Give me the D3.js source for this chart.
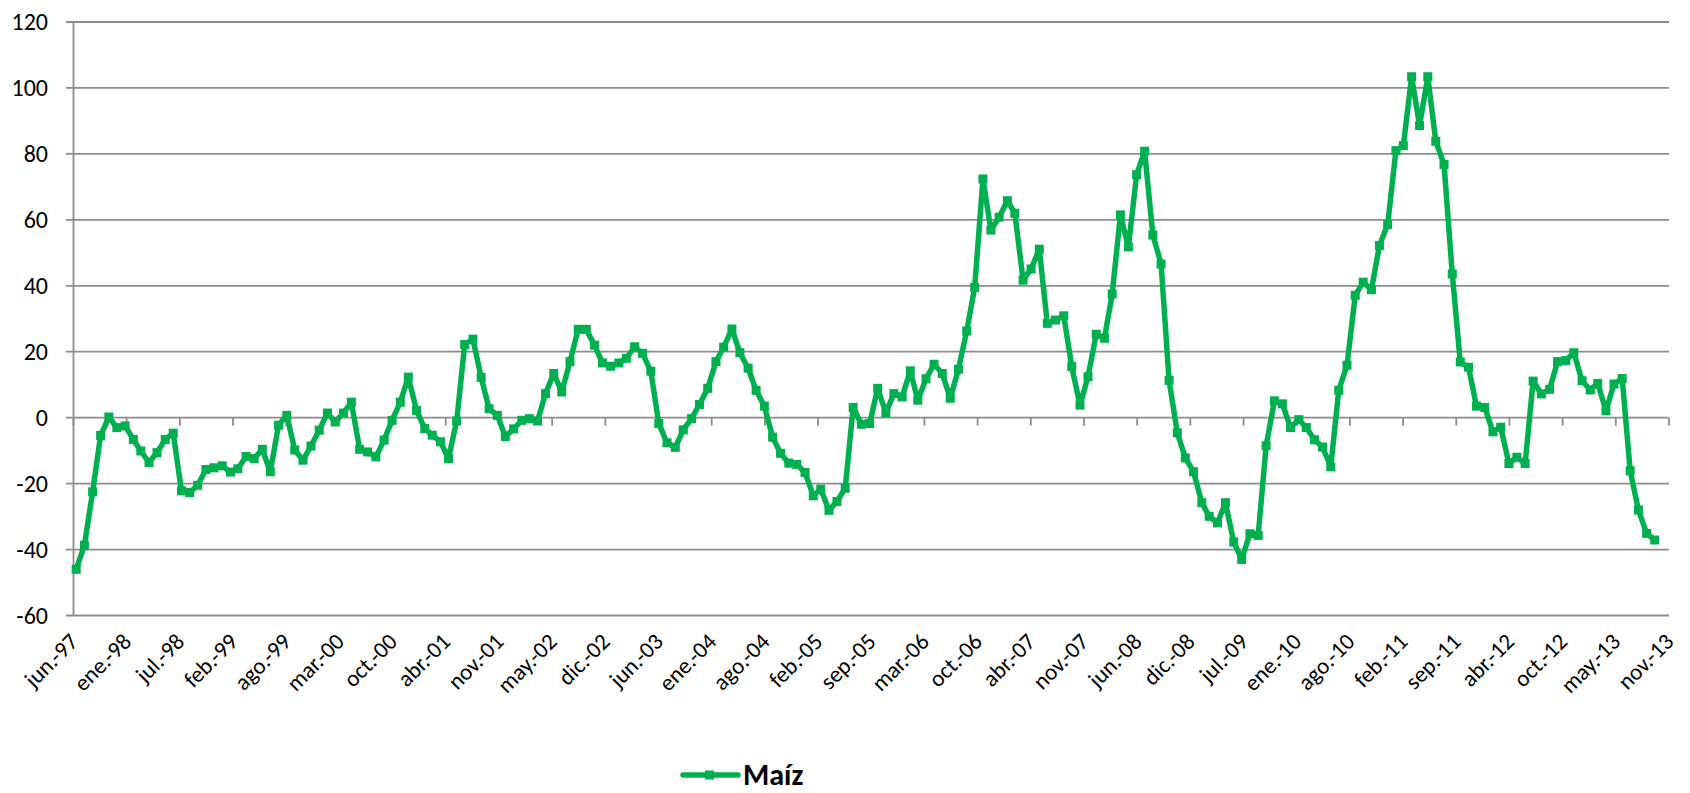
<!DOCTYPE html>
<html>
<head>
<meta charset="utf-8">
<style>
body { margin: 0; background: #fff; }
text { font-family: Calibri, Carlito, Lato, sans-serif; fill: #000; }
.grid line { stroke: #8c8c8c; stroke-width: 1.8px; }
.maiz { fill: none; stroke: #00b050; stroke-width: 5.5px; stroke-linejoin: round; }
.mark { fill: #00b050; }
</style>
</head>
<body>
<script src="https://cdn.jsdelivr.net/npm/d3@7"></script>
<script>

// monthly series, jun-97 .. sep-13 (each point dated end of month)
var firstMonth = new Date(1997, 5, 1);
var maiz = [
  -46, -38.7, -22.5, -5.4, 0.2, -3, -2.5, -6.6, -10.1, -13.6, -10.6, -6.6,
  -4.7, -22.2, -22.7, -20.5, -15.7, -15.2, -14.6, -16.5, -15.5, -11.8, -12.4, -9.6,
  -16.4, -2.3, 0.7, -9.8, -12.9, -8.6, -3.8, 1.4, -1.3, 1.4, 4.7, -9.6,
  -10.4, -11.9, -6.8, -0.8, 4.7, 12.3, 2.2, -3.3, -5.3, -7.3, -12.4, -1.0,
  22.2, 23.8, 12.2, 2.7, 0.7, -5.7, -3.4, -0.8, -0.3, -1.0, 7.3, 13.4,
  7.8, 17, 26.8, 26.8, 22, 16.6, 15.6, 16.6, 18, 21.5, 19.5, 14.1,
  -1.8, -7.6, -9, -3.7, -0.3, 4, 8.9, 17, 21.4, 26.9, 19.7, 15,
  8.3, 3.5, -5.9, -10.8, -13.8, -14.2, -16.6, -23.7, -21.7, -28.1, -25.4, -21.4,
  3.1, -2, -1.8, 8.9, 1.5, 7.3, 6.3, 14.2, 5.3, 11.8, 16.2, 13.4,
  5.9, 14.7, 26.3, 39.5, 72.4, 56.9, 60.8, 65.8, 62, 41.7, 45.1, 51.1,
  28.6, 29.6, 30.9, 15.5, 3.8, 12.4, 25.3, 24.1, 37.5, 61.5, 51.8, 73.7,
  80.8, 55.4, 46.6, 11.3, -4.6, -12.2, -16.4, -25.8, -29.9, -31.9, -25.8, -37.7,
  -43, -35.2, -35.7, -8.5, 5.1, 4.2, -3.0, -0.6, -3.0, -6.7, -8.9, -14.9,
  8.3, 15.9, 37.1, 41.1, 38.8, 52.2, 58.6, 81, 82.5, 103.4, 88.6, 103.4,
  83.8, 76.8, 43.6, 16.9, 15.3, 3.5, 3.1, -4.3, -2.9, -13.9, -12, -13.9,
  11.1, 7.2, 8.6, 17, 17.3, 19.7, 11.2, 8.4, 10.4, 2.1, 10.2, 11.9,
  -16.1, -28, -35.1, -37.1
];

var tickLabels = ["jun.-97", "ene.-98", "jul.-98", "feb.-99", "ago.-99", "mar.-00", "oct.-00",
  "abr.-01", "nov.-01", "may.-02", "dic.-02", "jun.-03", "ene.-04", "ago.-04", "feb.-05",
  "sep.-05", "mar.-06", "oct.-06", "abr.-07", "nov.-07", "jun.-08", "dic.-08", "jul.-09",
  "ene.-10", "ago.-10", "feb.-11", "sep.-11", "abr.-12", "oct.-12", "may.-13", "nov.-13"];
var yTicks = [120, 100, 80, 60, 40, 20, 0, -20, -40, -60];
var seriesName = "Maíz";

var width = 1690, height = 793;

// date axis: 30 steps of 200 days
var axisStart = new Date(1997, 5, 20);
var axisEnd = d3.timeDay.offset(axisStart, 6000);
var tickDates = d3.range(tickLabels.length).map(function(k) { return d3.timeDay.offset(axisStart, k * 200); });

var data = maiz.map(function(v, i) {
  return { date: d3.timeDay.offset(d3.timeMonth.offset(firstMonth, i + 1), -1), value: v };
});

var x = d3.scaleTime().domain([axisStart, axisEnd]).range([73.5, 1669]);
var y = d3.scaleLinear().domain([-60, 120]).range([615.5, 22]);

var svg = d3.select("body").append("svg")
    .attr("width", width)
    .attr("height", height);

// horizontal gridlines + y ticks
var grid = svg.append("g").attr("class", "grid");
grid.selectAll(".h")
    .data(yTicks)
    .enter().append("line")
    .attr("x1", 66).attr("x2", x.range()[1])
    .attr("y1", function(d) { return y(d); })
    .attr("y2", function(d) { return y(d); });

grid.append("line")
    .attr("x1", x.range()[0]).attr("x2", x.range()[0])
    .attr("y1", y(120)).attr("y2", y(-60));

// category ticks hang off the zero line
grid.selectAll(".xt")
    .data(tickDates)
    .enter().append("line")
    .attr("x1", function(d) { return x(d); })
    .attr("x2", function(d) { return x(d); })
    .attr("y1", y(0)).attr("y2", y(0) + 8);

svg.append("g").selectAll("text")
    .data(yTicks)
    .enter().append("text")
    .attr("x", 48)
    .attr("y", function(d) { return y(d); })
    .attr("dy", "0.35em")
    .attr("text-anchor", "end")
    .style("font-size", "24px")
    .text(function(d) { return d; });

svg.append("g").selectAll("text")
    .data(tickDates)
    .enter().append("text")
    .attr("text-anchor", "end")
    .style("font-size", "23px")
    .attr("transform", function(d) { return "translate(" + (x(d) + 6) + ",643) rotate(-45)"; })
    .text(function(d, i) { return tickLabels[i]; });

var line = d3.line()
    .x(function(d) { return x(d.date); })
    .y(function(d) { return y(d.value); });

svg.append("path")
    .datum(data)
    .attr("class", "maiz")
    .attr("d", line);

svg.append("g").selectAll("rect")
    .data(data)
    .enter().append("rect")
    .attr("class", "mark")
    .attr("x", function(d) { return x(d.date) - 4.5; })
    .attr("y", function(d) { return y(d.value) - 4.5; })
    .attr("width", 9)
    .attr("height", 9);

// legend
var lg = svg.append("g").attr("transform", "translate(683,775)");
lg.append("line").attr("x1", 0).attr("x2", 55)
    .style("stroke", "#00b050").style("stroke-width", "5.5px").style("stroke-linecap", "round");
lg.append("rect").attr("class", "mark").attr("x", 22).attr("y", -4.5).attr("width", 9).attr("height", 9);
lg.append("text").attr("x", 60).attr("y", 10)
    .style("font-size", "30px").style("font-weight", "bold")
    .text(seriesName);

</script>
</body>
</html>
